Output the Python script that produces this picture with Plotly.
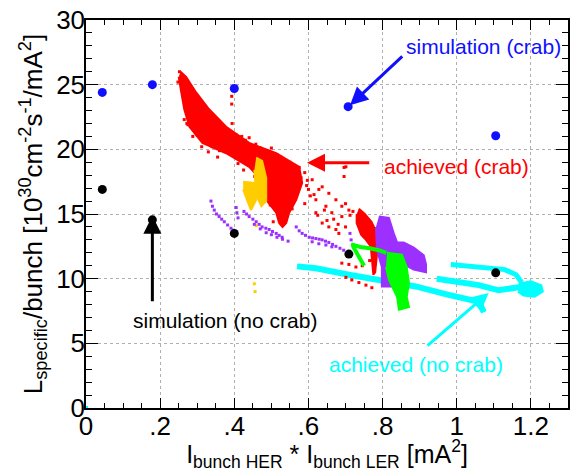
import plotly.graph_objects as go

# ---------------- data ----------------
# simulation points
sim_crab_x = [0.044, 0.179, 0.400, 0.707, 1.105]
sim_crab_y = [24.4, 25.0, 24.7, 23.3, 21.05]
sim_nocrab_x = [0.044, 0.179, 0.400, 0.709, 1.105]
sim_nocrab_y = [16.9, 14.55, 13.5, 11.9, 10.45]

# achieved (crab) - red: dense region outlines
red_main_x = [0.255, 0.27, 0.297, 0.332, 0.378, 0.44, 0.513, 0.575, 0.583, 0.567, 0.548, 0.54, 0.53,
              0.521, 0.513, 0.486, 0.48, 0.44, 0.378, 0.314, 0.279, 0.265, 0.257, 0.25]
red_main_y = [26.0, 25.6, 24.4, 23.1, 21.75, 20.5, 19.7, 18.65, 17.4, 16.1, 15.1, 14.3, 14.0,
              14.3, 15.1, 16.1, 17.4, 18.65, 19.7, 20.5, 21.75, 23.1, 24.4, 25.6]
red_col_x = [0.736, 0.752, 0.77, 0.785, 0.787, 0.784, 0.78, 0.775, 0.772, 0.768, 0.755, 0.742, 0.73, 0.73]
red_col_y = [15.4, 15.0, 14.4, 13.5, 12.5, 11.5, 10.5, 10.3, 11.5, 12.5, 13.0, 13.4, 14.3, 15.0]
# achieved (crab) - red: sparse dots
red_dots_x = [0.252, 0.262, 0.27, 0.285, 0.30, 0.31, 0.335, 0.34, 0.36, 0.38, 0.39, 0.405, 0.42, 0.43,
              0.44, 0.458, 0.47, 0.48, 0.50, 0.515, 0.53, 0.55, 0.575, 0.59, 0.595, 0.605, 0.59,
              0.265, 0.275, 0.30, 0.32, 0.34, 0.36, 0.393, 0.393, 0.394,
              0.610, 0.637, 0.655, 0.674, 0.690, 0.709, 0.620, 0.647, 0.663, 0.690, 0.620, 0.637,
              0.655, 0.674, 0.682, 0.696, 0.696, 0.701, 0.628, 0.60, 0.615, 0.643, 0.668, 0.700,
              0.712, 0.72, 0.625, 0.65, 0.68, 0.70,
              0.701, 0.717, 0.736, 0.755, 0.771, 0.690, 0.709, 0.728, 0.745, 0.765,
              0.248, 0.258, 0.268, 0.282, 0.292, 0.305, 0.318, 0.325, 0.35, 0.37, 0.395, 0.41,
              0.452, 0.465, 0.49, 0.525, 0.545, 0.562, 0.58, 0.597, 0.556, 0.535, 0.505, 0.497,
              0.47, 0.455, 0.425, 0.41, 0.355, 0.33, 0.312, 0.288, 0.272]
red_dots_y = [26.0, 25.6, 24.2, 23.6, 23.2, 22.6, 22.0, 21.5, 21.9, 21.5, 20.9, 21.1, 21.0, 20.7,
              20.9, 20.4, 20.1, 19.9, 20.1, 19.6, 19.1, 19.0, 18.6, 18.2, 17.2, 16.4, 15.8,
              22.3, 21.9, 21.1, 20.6, 20.2, 19.9, 24.1, 23.5, 22.0,
              17.65, 17.1, 16.6, 16.1, 15.6, 15.3, 16.1, 15.6, 15.1, 14.8, 15.1, 14.3,
              14.0, 13.8, 13.5, 17.9, 18.6, 18.65, 16.9, 16.9, 16.5, 15.3, 14.6, 15.8,
              14.9, 15.2, 14.9, 14.5, 14.2, 14.0,
              10.1, 9.9, 9.7, 9.5, 9.3, 11.2, 11.1, 10.9, 11.0, 11.4,
              25.2, 25.0, 24.8, 24.0, 22.9, 22.9, 22.3, 21.7, 21.3, 21.2, 20.6, 20.4,
              19.9, 19.8, 19.3, 19.4, 18.9, 18.3, 17.8, 17.6, 15.4, 14.6, 14.4, 15.7,
              16.8, 17.9, 18.4, 18.9, 19.4, 19.8, 20.2, 21.0, 22.0]

# gold region (achieved, crab)
gold_a_x = [0.459, 0.475, 0.486, 0.486, 0.473, 0.459, 0.454]
gold_a_y = [19.35, 19.1, 17.8, 16.0, 15.6, 16.5, 18.4]
gold_b_x = [0.424, 0.454, 0.459, 0.445, 0.434, 0.424]
gold_b_y = [17.5, 17.4, 16.1, 15.3, 16.1, 16.9]
gold_dots_x = [0.459, 0.454, 0.456]
gold_dots_y = [14.1, 9.6, 9.0]

# purple region
purple_blob_x = [0.790, 0.817, 0.830, 0.839, 0.844, 0.857, 0.884, 0.911, 0.917, 0.917, 0.884, 0.857,
                 0.830, 0.825, 0.798, 0.798, 0.785, 0.782]
purple_blob_y = [14.8, 14.7, 13.5, 12.8, 12.8, 12.8, 12.4, 11.8, 11.1, 10.5, 10.7, 11.1,
                 10.3, 9.4, 9.4, 10.9, 12.2, 14.0]
purple_dots_x = [0.337, 0.341, 0.346, 0.352, 0.359, 0.366, 0.373, 0.382, 0.391, 0.398, 0.405,
                 0.405, 0.407, 0.410,
                 0.426, 0.433, 0.44, 0.45, 0.459, 0.467, 0.475, 0.485, 0.494, 0.503, 0.513, 0.521, 0.529,
                 0.454, 0.47, 0.486, 0.50, 0.515, 0.53, 0.545,
                 0.567, 0.575, 0.583, 0.592, 0.602, 0.611, 0.620, 0.629, 0.637, 0.646, 0.655, 0.665,
                 0.674, 0.685, 0.695, 0.61, 0.628, 0.647, 0.663,
                 0.712, 0.715, 0.72]
purple_dots_y = [16.0, 15.6, 15.3, 15.0, 14.8, 14.6, 14.4, 14.15, 13.9, 13.75, 13.6,
                 15.5, 15.1, 14.7,
                 15.2, 15.0, 14.8, 14.6, 14.4, 14.2, 14.0, 13.9, 13.8, 13.65, 13.5, 13.35, 13.2,
                 14.2, 13.85, 13.55, 13.4, 13.2, 13.05, 12.9,
                 14.0, 13.7, 13.5, 13.35, 13.2, 13.15, 13.1, 13.05, 13.0, 12.9, 12.8, 12.65,
                 12.5, 12.35, 12.2, 12.85, 12.7, 12.6, 12.46,
                 13.5, 13.0, 12.6]

# green region
green_col_x = [0.812, 0.852, 0.865, 0.871, 0.865, 0.871, 0.844, 0.839, 0.817, 0.809]
green_col_y = [12.0, 11.85, 10.9, 9.67, 8.6, 7.8, 7.6, 8.6, 9.9, 10.9]
green_trail_x = [0.715, 0.74, 0.765, 0.79, 0.81]
green_trail_y = [12.65, 12.45, 12.35, 12.2, 12.0]
green_branch_x = [0.72, 0.73, 0.74, 0.75]
green_branch_y = [12.5, 12.0, 11.5, 11.0]

# cyan (achieved, no crab)
cyan_low_x = [0.569, 0.620, 0.709, 0.798, 0.889, 0.978, 1.027, 1.060, 1.073]
cyan_low_y = [10.95, 10.8, 10.3, 9.9, 9.4, 8.75, 8.4, 8.2, 7.4]
cyan_up_x = [0.984, 1.10, 1.13, 1.16, 1.175]
cyan_up_y = [11.1, 10.85, 10.7, 10.3, 9.7]
cyan_mid_x = [0.946, 1.059, 1.113, 1.148, 1.18, 1.22]
cyan_mid_y = [10.0, 9.5, 9.1, 9.3, 9.4, 9.2]
cyan_blob_x = [1.167, 1.20, 1.228, 1.232, 1.21, 1.18, 1.165]
cyan_blob_y = [9.6, 9.8, 9.5, 9.0, 8.6, 8.7, 9.0]
cyan_origin_x = [0.0]
cyan_origin_y = [0.0]

# axis ticks
x_tickvals = [0, 0.2, 0.4, 0.6, 0.8, 1.0, 1.2]
x_ticktext = ["0", ".2", ".4", ".6", ".8", "1", "1.2"]
y_tickvals = [0, 5, 10, 15, 20, 25, 30]

# labels: (text, color, text x, text y, arrow tail x, tail y, head x, head y)
labels = [
    ("simulation (crab)", "#1010ff", 0.857, 27.94, 0.857, 27.3, 0.712, 23.4),
    ("achieved (crab)", "#ff0000", 0.798, 18.65, 0.768, 18.96, 0.596, 18.96),
    ("simulation (no crab)", "#000000", 0.1225, 6.73, 0.179, 8.13, 0.179, 14.86),
    ("achieved (no crab)", "#00ffff", 0.65, 3.33, 0.917, 4.72, 1.086, 8.9),
]

RED = "#ff0000"
GOLD = "#ffcc00"
PURPLE = "#9b30ff"
GREEN = "#00ff00"
CYAN = "#00ffff"

fig = go.Figure()

def poly(x, y, c):
    fig.add_trace(go.Scatter(x=x, y=y, mode="lines", fill="toself", fillcolor=c,
                             line=dict(color=c, width=2), hoverinfo="skip", showlegend=False))

def dots(x, y, c, s=3):
    fig.add_trace(go.Scatter(x=x, y=y, mode="markers", marker=dict(color=c, size=s, symbol="square"),
                             hoverinfo="skip", showlegend=False))

def thick(x, y, c, w=5):
    fig.add_trace(go.Scatter(x=x, y=y, mode="lines", line=dict(color=c, width=w),
                             hoverinfo="skip", showlegend=False))

# cyan
thick(cyan_low_x, cyan_low_y, CYAN, 6)
thick(cyan_up_x, cyan_up_y, CYAN, 5)
thick(cyan_mid_x, cyan_mid_y, CYAN, 6)
poly(cyan_blob_x, cyan_blob_y, CYAN)
dots(cyan_origin_x, cyan_origin_y, CYAN, 4)
# red
poly(red_main_x, red_main_y, RED)
poly(red_col_x, red_col_y, RED)
dots(red_dots_x, red_dots_y, RED, 3)
# gold
poly(gold_a_x, gold_a_y, GOLD)
poly(gold_b_x, gold_b_y, GOLD)
dots(gold_dots_x, gold_dots_y, GOLD, 3)
# purple
poly(purple_blob_x, purple_blob_y, PURPLE)
dots(purple_dots_x, purple_dots_y, PURPLE, 3)
# green
poly(green_col_x, green_col_y, GREEN)
thick(green_trail_x, green_trail_y, GREEN, 4)
thick(green_branch_x, green_branch_y, GREEN, 4)
# simulations
fig.add_trace(go.Scatter(x=sim_nocrab_x, y=sim_nocrab_y, mode="markers",
                         marker=dict(color="black", size=9), showlegend=False))
fig.add_trace(go.Scatter(x=sim_crab_x, y=sim_crab_y, mode="markers",
                         marker=dict(color="#1010ff", size=9), showlegend=False))

for text, col, tx, ty, ax_, ay_, hx, hy in labels:
    fig.add_annotation(x=hx, y=hy, ax=ax_, ay=ay_, xref="x", yref="y", axref="x", ayref="y",
                       text="", showarrow=True, arrowhead=2, arrowsize=1.2, arrowwidth=3,
                       arrowcolor=col)
    fig.add_annotation(x=tx, y=ty, xref="x", yref="y", text=text, showarrow=False,
                       xanchor="left", yanchor="middle",
                       font=dict(family="Liberation Sans, Arial", size=21, color=col))

axis_common = dict(
    showline=True, linecolor="black", linewidth=1.5, mirror="allticks",
    ticks="inside", tickcolor="black", tickwidth=1,
    showgrid=True, gridcolor="#b0b0b0", griddash="dot", gridwidth=1,
    zeroline=False,
    tickfont=dict(family="Liberation Sans, Arial", size=26, color="black"),
)

fig.update_xaxes(range=[0, 1.3], tickvals=x_tickvals, ticktext=x_ticktext, ticklen=10,
                 ticklabelstandoff=-6,
                 minor=dict(dtick=0.05, ticks="inside", ticklen=5, tickcolor="black", showgrid=False),
                 title=dict(text="I<sub>bunch HER</sub> * I<sub>bunch LER</sub> [mA<sup>2</sup>]",
                            font=dict(family="Liberation Sans, Arial", size=25, color="black"),
                            standoff=10),
                 **axis_common)
fig.update_yaxes(range=[0, 30], tickvals=y_tickvals, ticklen=12,
                 ticklabelstandoff=-6,
                 minor=dict(dtick=1, ticks="inside", ticklen=6, tickcolor="black", showgrid=False),
                 title=dict(text="L<sub>specific</sub>/bunch [10<sup>30</sup>cm<sup>-2</sup>s<sup>-1</sup>/mA<sup>2</sup>]",
                            font=dict(family="Liberation Sans, Arial", size=26, color="black"),
                            standoff=6),
                 **axis_common)

fig.update_layout(width=573, height=472, margin=dict(l=86, r=5, t=20, b=64, autoexpand=False),
                  plot_bgcolor="white", paper_bgcolor="white", showlegend=False)

fig.write_html("out.html", config={"displayModeBar": False},
               post_script="document.body.style.margin='0';")
